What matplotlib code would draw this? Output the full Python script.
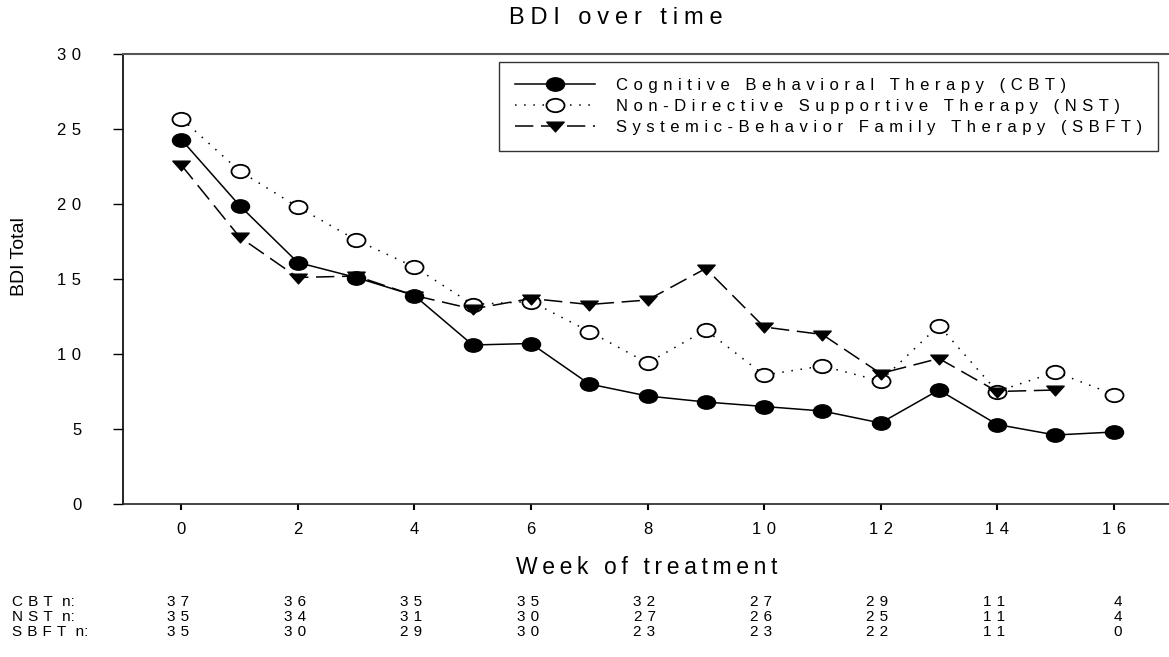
import matplotlib
matplotlib.use('Agg')
import matplotlib.pyplot as plt
from matplotlib.path import Path
from matplotlib.transforms import blended_transform_factory, offset_copy
import numpy as np

# ---- data ----
weeks = list(range(17))
cbt = [24.3, 19.9, 16.1, 15.1, 13.9, 10.6, 10.7, 8.0, 7.2, 6.8, 6.5, 6.2, 5.4, 7.6, 5.3, 4.6, 4.8]
nst = [25.7, 22.2, 19.8, 17.6, 15.8, 13.3, 13.5, 11.5, 9.4, 11.6, 8.6, 9.2, 8.2, 11.9, 7.5, 8.8, 7.3]
sbft_weeks = list(range(16))
sbft = [22.6, 17.8, 15.1, 15.2, 13.9, 13.0, 13.7, 13.3, 13.6, 15.7, 11.8, 11.3, 8.7, 9.7, 7.5, 7.6]

labels = ["Cognitive Behavioral Therapy (CBT)",
          "Non-Directive Supportive Therapy (NST)",
          "Systemic-Behavior Family Therapy (SBFT)"]

n_weeks = [0, 2, 4, 6, 8, 10, 12, 14, 16]
row_groups = ["CBT", "NST", "SBFT"]
cbt_n = [37, 36, 35, 35, 32, 27, 29, 11, 4]
nst_n = [35, 34, 31, 30, 27, 26, 25, 11, 4]
sbft_n = [35, 30, 29, 30, 23, 23, 22, 11, 0]

xticks = [0, 2, 4, 6, 8, 10, 12, 14, 16]
yticks = [0, 5, 10, 15, 20, 25, 30]

title = "BDI over time"
xlabel = "Week of treatment"
ylabel = "BDI Total"

FAM = ['Liberation Sans', 'DejaVu Sans']
plt.rcParams['font.family'] = FAM

THREE = '\u2004'
FOUR = '\u2005'
THIN = '\u2009'


def sp(s, gap=THREE):
    # letter-spaced rendering
    return gap.join(s)


# custom squashed markers
ell = Path.unit_circle()
ell = Path(ell.vertices * np.array([1.0, 0.74]), ell.codes)
tri = Path([(-1.0, 0.5), (1.0, 0.5), (0.0, -0.62), (-1.0, 0.5)],
           [Path.MOVETO, Path.LINETO, Path.LINETO, Path.CLOSEPOLY])

W, H = 1169, 657
fig = plt.figure(figsize=(W / 100, H / 100), dpi=100)
ax = fig.add_axes([123 / W, (H - 504) / H, (1172 - 123) / W, 450 / H])

ax.plot(weeks, cbt, color='black', lw=1.1, ls='-', marker=ell, ms=13,
        mfc='black', mec='black', label=sp(labels[0]))
ax.plot(weeks, nst, color='black', lw=1.1, ls=(0, (1, 5)), marker=ell, ms=13,
        mfc='white', mec='black', mew=1.3, label=sp(labels[1]))
ax.plot(sbft_weeks, sbft, color='black', lw=1.1, ls=(0, (12, 5)), marker=tri, ms=12.5,
        mfc='black', mec='black', label=sp(labels[2]))

ax.set_xlim(-1, 17)
ax.set_ylim(0, 30)
ax.set_xticks(xticks)
ax.set_xticklabels([sp(str(v)) for v in xticks], fontsize=12)
ax.set_yticks(yticks)
ax.set_yticklabels([sp(str(v)) for v in yticks], fontsize=12)
ax.tick_params(axis='y', direction='out', length=7, width=1, pad=23)
ax.tick_params(axis='x', direction='out', length=4.5, width=1.5, pad=8.5)

ax.spines['right'].set_visible(False)
ax.spines['top'].set_color('#555555')
ax.spines['top'].set_linewidth(1.5)
ax.spines['left'].set_linewidth(1.2)
ax.spines['bottom'].set_linewidth(1.2)
ax.spines['bottom'].set_color('#222222')

leg = ax.legend(loc='upper left', bbox_to_anchor=(499 / W, 1 - 62 / H),
                bbox_transform=fig.transFigure, borderaxespad=0,
                fontsize=12, frameon=True, fancybox=False, numpoints=1,
                handlelength=4.8, handletextpad=1.3, labelspacing=0.36,
                borderpad=0.95)
leg.get_frame().set_edgecolor('black')
leg.get_frame().set_linewidth(1.0)

fig.text(616 / W, 1 - 18 / H, sp(title, FOUR), ha='center', va='center', fontsize=17)
fig.text(647 / W, 1 - 567 / H, sp(xlabel, THIN), ha='center', va='center', fontsize=16.5)
fig.text(19 / W, 1 - 257 / H, ylabel, ha='center', va='center', rotation=90, fontsize=14)

# n table
row_y = [602, 617, 632]
trans = blended_transform_factory(ax.transData, fig.transFigure)
trans = offset_copy(trans, fig=fig, x=8, y=0, units='dots')
for grp, vals, yy in zip(row_groups, [cbt_n, nst_n, sbft_n], row_y):
    fig.text(12 / W, 1 - yy / H, sp(grp) + THREE + ' n:', ha='left', va='center', fontsize=11)
    for wk, v in zip(n_weeks, vals):
        ax.text(wk, 1 - yy / H, sp(str(v)), transform=trans, ha='right',
                va='center', fontsize=11, clip_on=False)

fig.savefig('out.png', dpi=100)
